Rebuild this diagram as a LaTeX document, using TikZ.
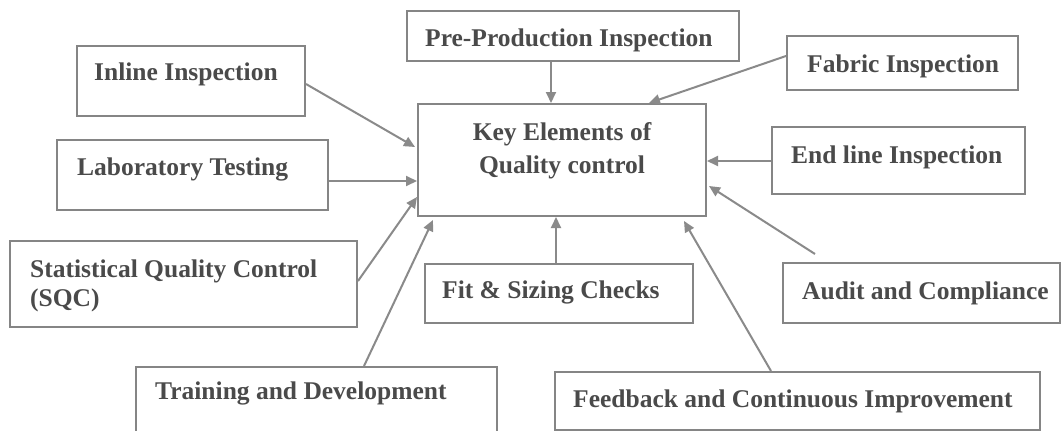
\documentclass[tikz,border=0pt]{standalone}
\usepackage{fontspec}
\setmainfont{Liberation Serif}
\usetikzlibrary{arrows.meta,calc}
\definecolor{boxgray}{HTML}{858585}
\definecolor{txtgray}{HTML}{4A4A4A}
\definecolor{arrgray}{HTML}{8A8A8A}
\tikzset{
  box/.style={draw=boxgray, line width=2pt, rectangle, inner sep=0pt, fill=none},
  txt/.style={text=txtgray, font=\fontsize{25.5}{30}\selectfont\bfseries, inner sep=0pt, anchor=base west},
  ctxt/.style={text=txtgray, font=\fontsize{25.5}{30}\selectfont\bfseries, inner sep=0pt, anchor=base},
  conn/.style={draw=arrgray, line width=2pt, -{Triangle[length=11pt,width=10pt]}}
}
\begin{document}
\begin{tikzpicture}[x=1pt,y=-1pt]
\useasboundingbox (0,0) rectangle (1063,431);
\fill[white] (0,0) rectangle (1063,431);
% boxes
\node[box, minimum width=332pt, minimum height=50pt] (pre) at (573,36) {};
\node[box, minimum width=228pt, minimum height=70pt] (inl) at (191,81) {};
\node[box, minimum width=231pt, minimum height=54pt] (fab) at (902.5,63) {};
\node[box, minimum width=288pt, minimum height=112pt] (key) at (562,160) {};
\node[box, minimum width=271pt, minimum height=70pt] (lab) at (192.5,175) {};
\node[box, minimum width=253pt, minimum height=67pt] (end) at (898.5,160.5) {};
\node[box, minimum width=347pt, minimum height=86pt] (sqc) at (183.5,284) {};
\node[box, minimum width=268pt, minimum height=59pt] (fit) at (559,293.5) {};
\node[box, minimum width=277pt, minimum height=60pt] (aud) at (921.5,293) {};
\node[box, minimum width=361pt, minimum height=76pt] (trn) at (316.5,405) {};
\node[box, minimum width=485pt, minimum height=58pt] (fdb) at (797.5,401) {};
% texts
\node[txt] (pret) at (425,46) {Pre-Production Inspection};
\node[txt] (inlt) at (94,80) {Inline Inspection};
\node[txt] (fabt) at (807,72) {Fabric Inspection};
\node[ctxt] (keyt1) at (562,140) {Key Elements of};
\node[ctxt] (keyt2) at (562,173) {Quality control};
\node[txt] (labt) at (77,175) {Laboratory Testing};
\node[txt] (endt) at (791,163) {End line Inspection};
\node[txt] (sqct1) at (30,277) {Statistical Quality Control};
\node[txt] (sqct2) at (30,306) {(SQC)};
\node[txt] (fitt) at (442,298) {Fit \& Sizing Checks};
\node[txt] (audt) at (802,299) {Audit and Compliance};
\node[txt] (trnt) at (155,399) {Training and Development};
\node[txt] (fdbt) at (573,407) {Feedback and Continuous Improvement};
% connectors
\draw[conn] ($(inl.north east)+(0,39)$) -- ($(key.north west)+(-2,44)$);
\draw[conn] ($(lab.north east)+(0,42)$) -- ($(key.north west)+(0,78)$);
\draw[conn] ($(sqc.north east)+(0,41)$) -- ($(key.north west)+(0,94)$);
\draw[conn] ($(trn.north west)+(229,0)$) -- ($(key.south west)+(16,3)$);
\draw[conn] ($(pre.south west)+(145,0)$) -- ($(key.north west)+(134,0)$);
\draw[conn] ($(fab.north west)+(0,21)$) -- ($(key.north west)+(232,0)$);
\draw[conn] ($(end.north west)+(0,35)$) -- ($(key.north east)+(0,58)$);
\draw[conn] ($(aud.north west)+(33,-8)$) -- ($(key.north east)+(2,83)$);
\draw[conn] ($(fit.north west)+(132,0)$) -- ($(key.south west)+(139,0)$);
\draw[conn] ($(fdb.north west)+(217,0)$) -- ($(key.south east)+(-23,4)$);
\end{tikzpicture}
\end{document}
